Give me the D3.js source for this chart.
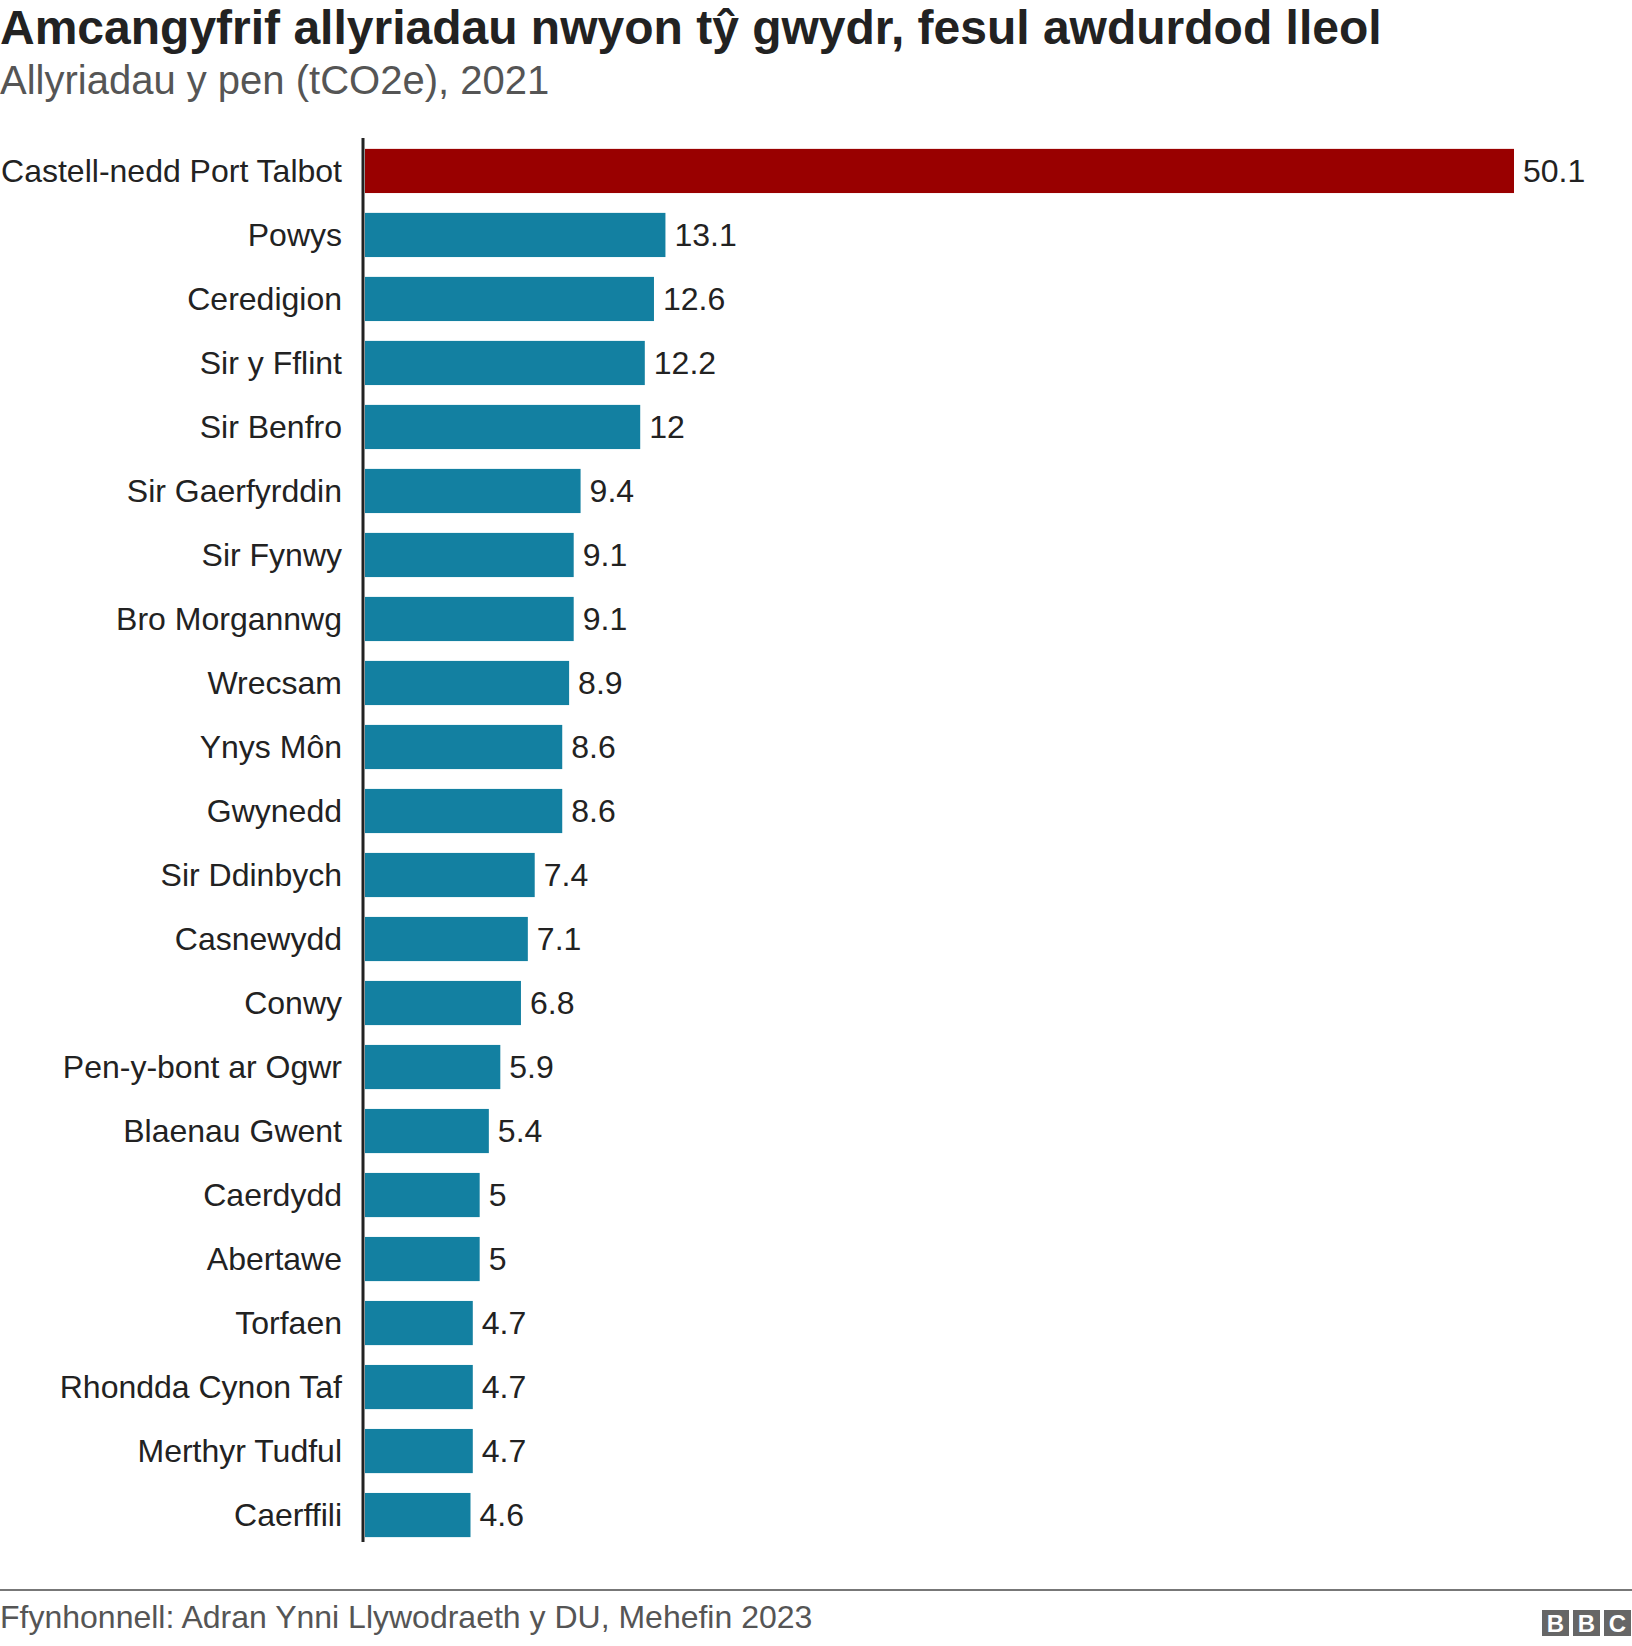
<!DOCTYPE html>
<html><head><meta charset="utf-8">
<script src="https://cdn.jsdelivr.net/npm/d3@7"></script>
<style>body{margin:0;background:#fff}text{font-family:"Liberation Sans",Arial,sans-serif}</style>
</head><body><svg id="c" width="1632" height="1646"></svg>
<script>
var categories = ["Castell-nedd Port Talbot","Powys","Ceredigion","Sir y Fflint","Sir Benfro","Sir Gaerfyrddin","Sir Fynwy","Bro Morgannwg","Wrecsam","Ynys Môn","Gwynedd","Sir Ddinbych","Casnewydd","Conwy","Pen-y-bont ar Ogwr","Blaenau Gwent","Caerdydd","Abertawe","Torfaen","Rhondda Cynon Taf","Merthyr Tudful","Caerffili"];
var values = [50.1,13.1,12.6,12.2,12,9.4,9.1,9.1,8.9,8.6,8.6,7.4,7.1,6.8,5.9,5.4,5,5,4.7,4.7,4.7,4.6];

var svg = d3.select("#c");
var x = d3.scaleLinear().domain([0, 50.1]).range([365, 1514]);
var y = d3.scaleBand().domain(categories).range([138, 1548]).paddingInner(0.31).paddingOuter(0.17);

svg.append("text").attr("x",0).attr("y",44).attr("font-size",48).attr("font-weight","bold").attr("fill","#222")
  .text("Amcangyfrif allyriadau nwyon tŷ gwydr, fesul awdurdod lleol");
svg.append("text").attr("x",0).attr("y",94).attr("font-size",40).attr("fill","#555")
  .text("Allyriadau y pen (tCO2e), 2021");

svg.selectAll("rect.bar").data(values).enter().append("rect")
  .attr("x", x(0)).attr("y", (d,i)=>y(categories[i]))
  .attr("width", d=>x(d)-x(0)).attr("height", y.bandwidth())
  .attr("fill", (d,i)=> i===0 ? "#990000" : "#1380a1");

svg.selectAll("text.val").data(values).enter().append("text")
  .attr("x", d=>x(d)+9).attr("y", (d,i)=>y(categories[i])+y.bandwidth()/2)
  .attr("dy","0.35em").attr("font-size",32).attr("fill","#222").text(d=>d);

svg.selectAll("text.cat").data(categories).enter().append("text")
  .attr("x", 342).attr("y", d=>y(d)+y.bandwidth()/2).attr("dy","0.35em")
  .attr("text-anchor","end").attr("font-size",32).attr("fill","#222").text(d=>d);

svg.append("line").attr("x1",363).attr("x2",363).attr("y1",138).attr("y2",1542).attr("stroke","#222").attr("stroke-width",3);

svg.append("line").attr("x1",0).attr("x2",1632).attr("y1",1590).attr("y2",1590).attr("stroke","#777").attr("stroke-width",2);
svg.append("text").attr("x",0).attr("y",1628).attr("font-size",32).attr("fill","#555")
  .text("Ffynhonnell: Adran Ynni Llywodraeth y DU, Mehefin 2023");
var logo = svg.append("g");
["B","B","C"].forEach(function(l,i){
  var lx = 1542 + i*31;
  logo.append("rect").attr("x",lx).attr("y",1610).attr("width",27).attr("height",26).attr("fill","#666");
  logo.append("text").attr("x",lx+13.5).attr("y",1632).attr("text-anchor","middle").attr("font-size",24).attr("font-weight","bold").attr("fill","#fff").text(l);
});
</script></body></html>
